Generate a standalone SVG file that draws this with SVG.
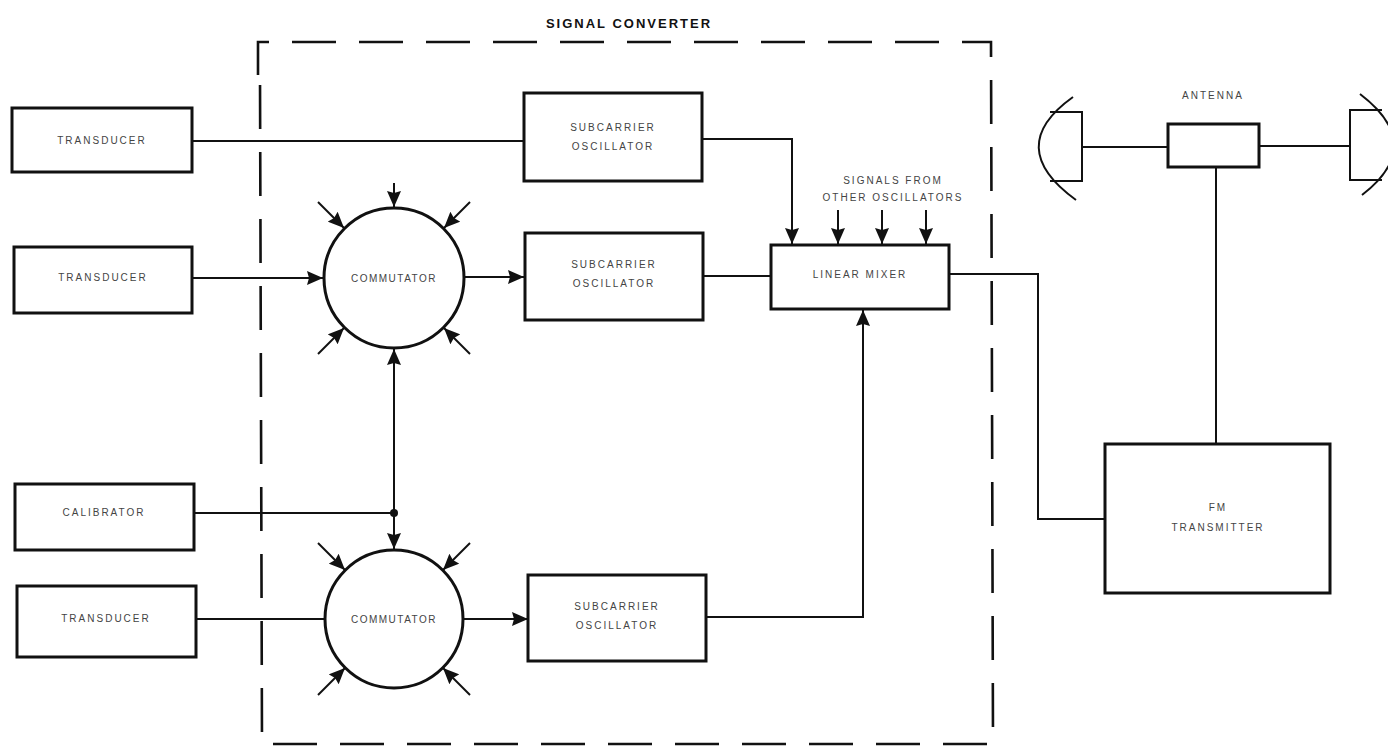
<svg xmlns="http://www.w3.org/2000/svg" width="1388" height="747" viewBox="0 0 1388 747">
<defs>
<style>
.box{fill:#fff;stroke:#111;stroke-width:3}
.ln{fill:none;stroke:#111;stroke-width:2}
.circ{fill:#fff;stroke:#111;stroke-width:3}
.dash{fill:none;stroke:#111;stroke-width:2.6;stroke-dasharray:44 23}
.t{font-family:"Liberation Sans","DejaVu Sans",sans-serif;font-size:10px;letter-spacing:2px;fill:#444;text-anchor:middle}
.title{font-family:"Liberation Sans","DejaVu Sans",sans-serif;font-size:13px;font-weight:bold;letter-spacing:2px;fill:#111;text-anchor:middle}
</style>
<marker id="arr" viewBox="0 0 16 14" refX="16" refY="7" markerWidth="16" markerHeight="14" markerUnits="userSpaceOnUse" orient="auto">
<path d="M0,0 L16,7 L0,14 L2,7 Z" fill="#111"/>
</marker>
</defs>
<rect width="1388" height="747" fill="#fff"/>

<g id="signal-converter">
<path class="dash" d="M258,75 L258,42 L991,42 L993,744 L262,744 L260,75"/>
<text class="title" x="629" y="28">SIGNAL CONVERTER</text>
</g>

<g id="connectors">
<line class="ln" x1="192" y1="141" x2="524" y2="141"/>
<line class="ln" x1="192" y1="278" x2="323" y2="278" marker-end="url(#arr)"/>
<line class="ln" x1="465" y1="277" x2="524" y2="277" marker-end="url(#arr)"/>
<line class="ln" x1="703" y1="276" x2="771" y2="276"/>
<path class="ln" d="M702,139 L792,139 L792,244" marker-end="url(#arr)"/>
<line class="ln" x1="838" y1="210" x2="838" y2="244" marker-end="url(#arr)"/>
<line class="ln" x1="882" y1="210" x2="882" y2="244" marker-end="url(#arr)"/>
<line class="ln" x1="926" y1="210" x2="926" y2="244" marker-end="url(#arr)"/>
<line class="ln" x1="194" y1="513" x2="394" y2="513"/>
<circle cx="394" cy="513" r="4" fill="#111"/>
<line class="ln" x1="394" y1="513" x2="394" y2="349" marker-end="url(#arr)"/>
<line class="ln" x1="394" y1="513" x2="394" y2="549" marker-end="url(#arr)"/>
<line class="ln" x1="394" y1="183" x2="394" y2="207" marker-end="url(#arr)"/>
<line class="ln" x1="318" y1="202" x2="344" y2="228" marker-end="url(#arr)"/>
<line class="ln" x1="470" y1="202" x2="444" y2="228" marker-end="url(#arr)"/>
<line class="ln" x1="318" y1="354" x2="344" y2="328" marker-end="url(#arr)"/>
<line class="ln" x1="470" y1="354" x2="444" y2="328" marker-end="url(#arr)"/>
<line class="ln" x1="196" y1="619" x2="325" y2="619"/>
<line class="ln" x1="318" y1="543" x2="345" y2="570" marker-end="url(#arr)"/>
<line class="ln" x1="470" y1="543" x2="443" y2="570" marker-end="url(#arr)"/>
<line class="ln" x1="318" y1="695" x2="345" y2="668" marker-end="url(#arr)"/>
<line class="ln" x1="470" y1="695" x2="443" y2="668" marker-end="url(#arr)"/>
<line class="ln" x1="463" y1="619" x2="528" y2="619" marker-end="url(#arr)"/>
<path class="ln" d="M706,617 L863,617 L863,310" marker-end="url(#arr)"/>
<path class="ln" d="M949,274 L1038,274 L1038,519 L1105,519"/>
<line class="ln" x1="1216" y1="167" x2="1216" y2="444"/>
<line class="ln" x1="1082" y1="147" x2="1168" y2="147"/>
<line class="ln" x1="1259" y1="146" x2="1350" y2="146"/>
</g>

<g id="transducer-1"><rect class="box" x="12" y="108" width="180" height="64"/><text class="t" x="102" y="144">TRANSDUCER</text></g>
<g id="transducer-2"><rect class="box" x="14" y="247" width="178" height="66"/><text class="t" x="103" y="281">TRANSDUCER</text></g>
<g id="calibrator"><rect class="box" x="15" y="484" width="179" height="66"/><text class="t" x="104" y="516">CALIBRATOR</text></g>
<g id="transducer-4"><rect class="box" x="17" y="586" width="179" height="71"/><text class="t" x="106" y="622">TRANSDUCER</text></g>

<g id="commutator-1"><circle class="circ" cx="394" cy="278" r="70"/><text class="t" x="394" y="282" style="letter-spacing:1.5px">COMMUTATOR</text></g>
<g id="commutator-2"><circle class="circ" cx="394" cy="619" r="69"/><text class="t" x="394" y="623" style="letter-spacing:1.5px">COMMUTATOR</text></g>

<g id="osc-1"><rect class="box" x="524" y="93" width="178" height="88"/><text class="t" x="613" y="131">SUBCARRIER</text><text class="t" x="613" y="150">OSCILLATOR</text></g>
<g id="osc-2"><rect class="box" x="525" y="233" width="178" height="87"/><text class="t" x="614" y="268">SUBCARRIER</text><text class="t" x="614" y="287">OSCILLATOR</text></g>
<g id="osc-3"><rect class="box" x="528" y="575" width="178" height="86"/><text class="t" x="617" y="610">SUBCARRIER</text><text class="t" x="617" y="629">OSCILLATOR</text></g>

<g id="linear-mixer"><rect class="box" x="771" y="245" width="178" height="64"/><text class="t" x="860" y="278">LINEAR MIXER</text></g>
<g id="signals-label"><text class="t" x="893" y="184">SIGNALS FROM</text><text class="t" x="893" y="201">OTHER OSCILLATORS</text></g>

<g id="fm-transmitter"><rect class="box" x="1105" y="444" width="225" height="149"/><text class="t" x="1218" y="511">FM</text><text class="t" x="1218" y="531">TRANSMITTER</text></g>

<g id="antenna">
<text class="t" x="1213" y="99">ANTENNA</text>
<rect class="box" x="1168" y="124" width="91" height="43"/>
<path class="ln" d="M1050,112 L1082,112 L1082,181 L1050,181"/>
<path class="ln" d="M1073,97 Q1003,147 1076,200"/>
<path class="ln" d="M1382,110 L1350,110 L1350,180 L1382,180"/>
<path class="ln" d="M1360,94 Q1427,145 1362,195"/>
</g>
</svg>
